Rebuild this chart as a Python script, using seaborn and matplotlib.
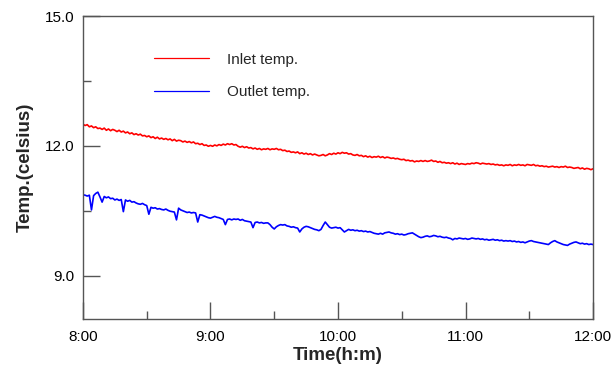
import numpy as np
import pandas as pd
import matplotlib
matplotlib.use("Agg")
import matplotlib.pyplot as plt
import seaborn as sns
from matplotlib.ticker import FixedLocator, MultipleLocator

# Temperature logged once per minute from 8:00 to 12:00
minutes = list(range(0, 241))

inlet_temp = [
    12.50, 12.47, 12.49, 12.44, 12.46, 12.42, 12.44, 12.40, 12.41, 12.38,
    12.41, 12.36, 12.39, 12.35, 12.38, 12.36, 12.33, 12.36, 12.32, 12.34,
    12.30, 12.32, 12.28, 12.30, 12.26, 12.28, 12.25, 12.27, 12.23, 12.24,
    12.21, 12.23, 12.19, 12.21, 12.17, 12.20, 12.16, 12.18, 12.15, 12.17,
    12.14, 12.16, 12.12, 12.15, 12.11, 12.13, 12.12, 12.09, 12.11, 12.08,
    12.10, 12.07, 12.09, 12.05, 12.06, 12.03, 12.05, 12.01, 12.02, 11.99,
    12.01, 11.99, 12.02, 12.00, 12.03, 12.01, 12.04, 12.02, 12.05, 12.03,
    12.05, 12.02, 12.03, 11.99, 11.97, 11.99, 11.96, 11.98, 11.95, 11.96,
    11.93, 11.95, 11.92, 11.94, 11.91, 11.93, 11.92, 11.94, 11.91, 11.93,
    11.92, 11.94, 11.91, 11.92, 11.89, 11.90, 11.87, 11.88, 11.85, 11.86,
    11.84, 11.86, 11.82, 11.84, 11.81, 11.83, 11.80, 11.82, 11.79, 11.81,
    11.79, 11.77, 11.78, 11.80, 11.77, 11.79, 11.82, 11.80, 11.83, 11.81,
    11.84, 11.82, 11.85, 11.83, 11.84, 11.81, 11.82, 11.79, 11.78, 11.80,
    11.77, 11.78, 11.75, 11.77, 11.74, 11.76, 11.73, 11.75, 11.74, 11.76,
    11.73, 11.75, 11.72, 11.74, 11.73, 11.71, 11.72, 11.70, 11.71, 11.69,
    11.68, 11.69, 11.66, 11.67, 11.65, 11.66, 11.63, 11.65, 11.64, 11.66,
    11.64, 11.66, 11.64, 11.65, 11.67, 11.64, 11.65, 11.62, 11.64, 11.61,
    11.62, 11.60, 11.61, 11.59, 11.61, 11.58, 11.60, 11.57, 11.59, 11.58,
    11.57, 11.59, 11.58, 11.60, 11.59, 11.61, 11.60, 11.58, 11.60, 11.59,
    11.58, 11.59, 11.57, 11.58, 11.56, 11.57, 11.55, 11.56, 11.54, 11.56,
    11.55, 11.57, 11.54, 11.56, 11.55, 11.57, 11.55, 11.56, 11.54, 11.57,
    11.56, 11.55, 11.57, 11.54, 11.55, 11.53, 11.54, 11.52, 11.53, 11.51,
    11.52, 11.53, 11.51, 11.52, 11.50, 11.52, 11.51, 11.53, 11.50, 11.51,
    11.50, 11.48, 11.49, 11.50, 11.47, 11.49, 11.46, 11.48, 11.47, 11.45,
    11.47,
]

outlet_temp = [
    10.87, 10.86, 10.84, 10.86, 10.52, 10.85, 10.90, 10.93, 10.82, 10.70,
    10.83, 10.80, 10.82, 10.78, 10.79, 10.75, 10.77, 10.74, 10.76, 10.48,
    10.75, 10.72, 10.74, 10.70, 10.71, 10.68, 10.66, 10.65, 10.67, 10.64,
    10.62, 10.42, 10.58, 10.56, 10.57, 10.54, 10.55, 10.53, 10.52, 10.54,
    10.51, 10.49, 10.48, 10.47, 10.29, 10.56, 10.52, 10.50, 10.48, 10.46,
    10.47, 10.45, 10.46, 10.45, 10.24, 10.41, 10.40, 10.38, 10.36, 10.34,
    10.33, 10.35, 10.37, 10.35, 10.34, 10.32, 10.30, 10.18, 10.30, 10.31,
    10.29, 10.31, 10.30, 10.31, 10.28, 10.30, 10.27, 10.26, 10.25, 10.24,
    10.11, 10.23, 10.24, 10.22, 10.23, 10.21, 10.22, 10.22, 10.18, 10.12,
    10.08, 10.13, 10.16, 10.18, 10.17, 10.18, 10.15, 10.14, 10.12, 10.13,
    10.11, 10.10, 10.01, 10.08, 10.12, 10.14, 10.13, 10.11, 10.09, 10.07,
    10.06, 10.04, 10.07, 10.16, 10.24, 10.18, 10.12, 10.10, 10.11, 10.12,
    10.10, 10.11, 10.06, 10.01, 10.04, 10.07, 10.05, 10.06, 10.04, 10.05,
    10.03, 10.04, 10.02, 10.03, 10.01, 10.02, 10.00, 9.98, 9.97, 9.96,
    9.98, 9.96, 9.99, 10.00, 10.01, 9.99, 9.98, 9.96, 9.97, 9.95,
    9.96, 9.94, 9.95, 9.97, 9.98, 9.99, 9.96, 9.93, 9.90, 9.88,
    9.89, 9.91, 9.92, 9.90, 9.91, 9.93, 9.92, 9.90, 9.91, 9.89,
    9.88, 9.89, 9.87, 9.86, 9.83, 9.86, 9.85, 9.87, 9.86, 9.85,
    9.86, 9.84, 9.85, 9.87, 9.86, 9.85, 9.86, 9.84, 9.85, 9.83,
    9.84, 9.82, 9.83, 9.84, 9.82, 9.83, 9.81, 9.82, 9.80, 9.81,
    9.80, 9.81, 9.79, 9.80, 9.78, 9.79, 9.77, 9.78, 9.76, 9.78,
    9.80, 9.81, 9.79, 9.78, 9.77, 9.76, 9.75, 9.74, 9.73, 9.72,
    9.76, 9.79, 9.81, 9.78, 9.76, 9.74, 9.72, 9.71, 9.70, 9.73,
    9.75, 9.77, 9.78, 9.76, 9.74, 9.75, 9.73, 9.74, 9.72, 9.73,
    9.72,
]

series_names = ["Inlet temp.", "Outlet temp."]
series_colors = ["#ff0000", "#0000ff"]
time_ticks = [0, 60, 120, 180, 240]
time_labels = ["8:00", "9:00", "10:00", "11:00", "12:00"]
temp_ticks = [9.0, 12.0, 15.0]

df = pd.DataFrame({
    "minute": minutes * 2,
    "temp": inlet_temp + outlet_temp,
    "series": [series_names[0]] * len(minutes) + [series_names[1]] * len(minutes),
})

sns.set_theme(style="white")
plt.rcParams["font.family"] = ["Liberation Sans", "DejaVu Sans"]

fig = plt.figure(figsize=(6.16, 3.68), dpi=100)
ax = fig.add_axes([0.1347, 0.1332, 0.828, 0.8233])

sns.lineplot(data=df, x="minute", y="temp", hue="series",
             palette=dict(zip(series_names, series_colors)),
             linewidth=1.2, ax=ax, legend=True)

ax.set_xlim(0, 240)
ax.set_ylim(8.0, 15.0)

ax.xaxis.set_major_locator(FixedLocator(time_ticks))
ax.set_xticklabels(time_labels)
ax.xaxis.set_minor_locator(MultipleLocator(30))
ax.yaxis.set_major_locator(FixedLocator(temp_ticks))
ax.set_yticklabels([f"{v:.1f}" for v in temp_ticks])
ax.yaxis.set_minor_locator(MultipleLocator(1.5))

spine_color = "#555555"
for side in ["left", "right", "top", "bottom"]:
    ax.spines[side].set_visible(True)
    ax.spines[side].set_color(spine_color)
    ax.spines[side].set_linewidth(1.0)

ax.tick_params(axis="both", which="major", direction="in", length=12,
               width=1.0, color=spine_color, labelsize=11, labelcolor="black",
               bottom=True, left=True, top=False, right=False)
ax.tick_params(axis="both", which="minor", direction="in", length=5.5,
               width=1.0, color=spine_color,
               bottom=True, left=True, top=False, right=False)
ax.tick_params(axis="x", which="major", pad=8)
ax.tick_params(axis="y", which="major", pad=6)

ax.set_xlabel("Time(h:m)", fontsize=13.5, fontweight="bold", labelpad=2)
ax.set_ylabel("Temp.(celsius)", fontsize=13.5, fontweight="bold", labelpad=8)

handles, labels = ax.get_legend_handles_labels()
for h in handles:
    h.set_linewidth(0.9)
ax.legend(handles, labels, loc="center left", bbox_to_anchor=(0.139, 0.803),
          frameon=False, fontsize=11, handlelength=3.6, handletextpad=1.2,
          labelspacing=1.2, borderpad=0, borderaxespad=0)

fig.savefig("out.png", dpi=100)
